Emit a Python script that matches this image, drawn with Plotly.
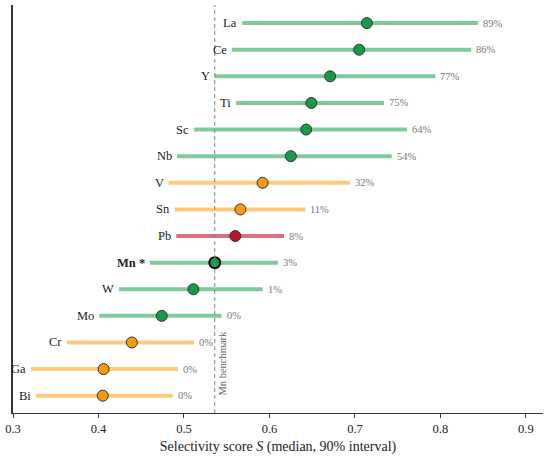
import plotly.graph_objects as go

# elements from bottom to top
elements = ["Bi", "Ga", "Cr", "Mo", "W", "Mn", "Pb", "Sn", "V", "Nb", "Sc", "Ti", "Y", "Ce", "La"]
median = [0.405, 0.406, 0.439, 0.474, 0.511, 0.536, 0.560, 0.566, 0.592, 0.625, 0.643, 0.649, 0.671, 0.705, 0.714]
low = [0.327, 0.321, 0.363, 0.401, 0.424, 0.460, 0.491, 0.489, 0.482, 0.492, 0.512, 0.561, 0.536, 0.556, 0.568]
high = [0.487, 0.493, 0.512, 0.544, 0.592, 0.610, 0.617, 0.642, 0.694, 0.743, 0.761, 0.734, 0.794, 0.836, 0.844]
pct = ["0%", "0%", "0%", "0%", "1%", "3%", "8%", "11%", "32%", "54%", "64%", "75%", "77%", "86%", "89%"]
group = ["o", "o", "o", "g", "g", "g", "r", "o", "o", "g", "g", "g", "g", "g", "g"]
mn_benchmark = 0.536

line_col = {"g": "#80c99b", "o": "#fdc981", "r": "#d9707f"}
dot_col = {"g": "#1a9a48", "o": "#f39c12", "r": "#b0182e"}

fig = go.Figure()
annots = []
for i, el in enumerate(elements):
    g = group[i]
    fig.add_trace(go.Scatter(x=[low[i], high[i]], y=[i, i], mode="lines",
                             line=dict(color=line_col[g], width=4), showlegend=False,
                             hoverinfo="skip"))
    is_mn = el == "Mn"
    fig.add_trace(go.Scatter(x=[median[i]], y=[i], mode="markers",
                             marker=dict(size=11, color=dot_col[g],
                                         line=dict(color="black" if is_mn else "#333333",
                                                   width=1.8 if is_mn else 1)),
                             showlegend=False))
    annots.append(dict(x=low[i], y=i, xref="x", yref="y", text="<b>Mn *</b>" if is_mn else el,
                       showarrow=False, xanchor="right", xshift=-3,
                       font=dict(size=12.5, color="#222222")))
    annots.append(dict(x=high[i], y=i, xref="x", yref="y", text=pct[i],
                       showarrow=False, xanchor="left", xshift=3,
                       font=dict(family="Liberation Serif", size=10.5, color="#777777")))

# benchmark label, rotated, next to the dashed line
annots.append(dict(x=mn_benchmark, y=-0.08, xref="x", yref="y", text="Mn benchmark",
                   textangle=-90, showarrow=False, xanchor="left", yanchor="bottom",
                   xshift=0, font=dict(size=10.5, color="#666666")))

fig.add_shape(type="line", x0=mn_benchmark, x1=mn_benchmark, y0=0, y1=1,
              xref="x", yref="paper", line=dict(color="#808080", width=1, dash="4px,3px"))

fig.update_layout(
    width=550, height=458,
    margin=dict(l=13, r=7, t=5, b=45),
    plot_bgcolor="white", paper_bgcolor="white",
    font=dict(family="Liberation Serif", color="#222222"),
    annotations=annots,
    xaxis=dict(range=[0.3, 0.92], dtick=0.1, tick0=0.3, showline=True, linecolor="#333333",
               linewidth=1, ticks="outside", ticklen=4, tickcolor="#333333",
               showgrid=False, zeroline=False, tickfont=dict(size=12.5),
               title=dict(text="Selectivity score <i>S</i> (median, 90% interval)",
                          font=dict(size=14), standoff=6)),
    yaxis=dict(range=[-0.65, 14.68], showline=True, linecolor="#333333", linewidth=1.5,
               showticklabels=False, ticks="", showgrid=False, zeroline=False),
)

fig.write_html("out.html", config={"displayModeBar": False},
               post_script="document.body.style.margin='0';")
